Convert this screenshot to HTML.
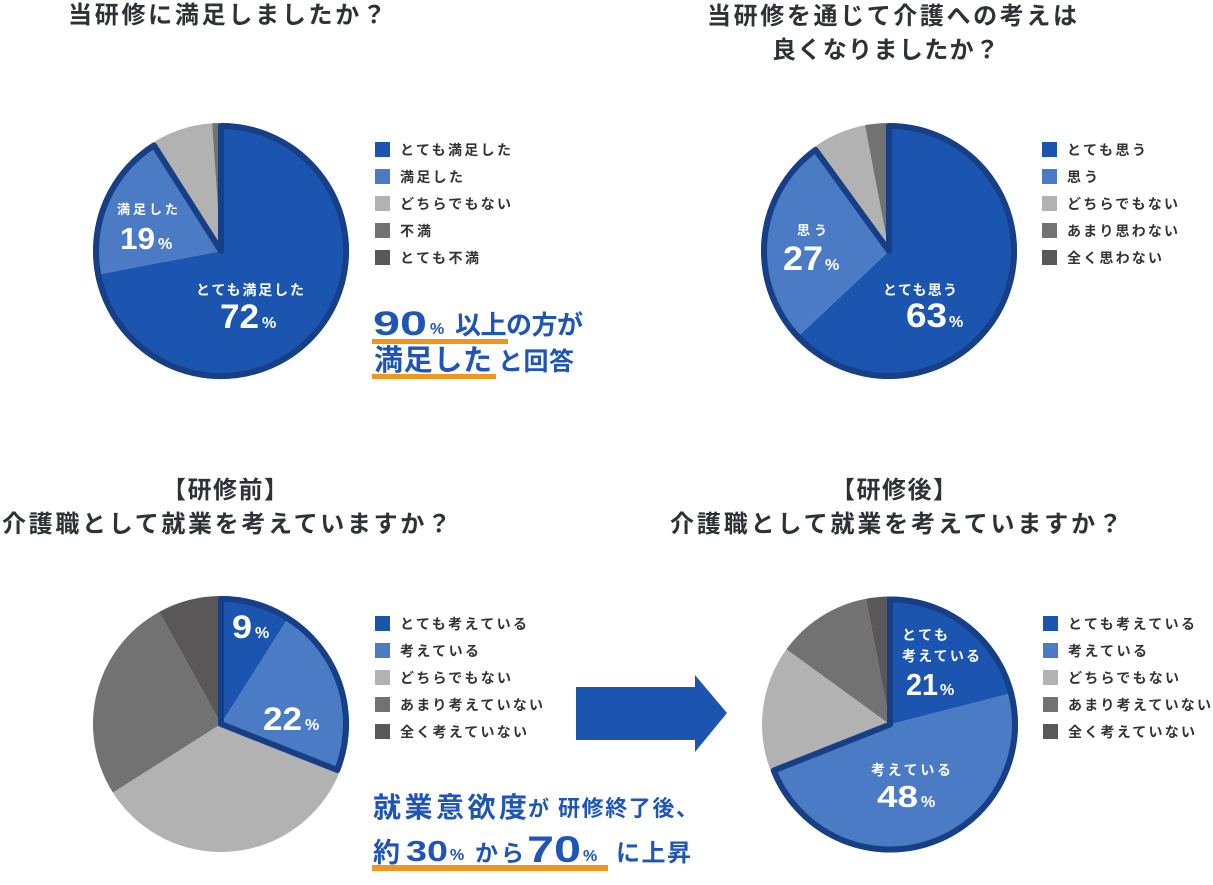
<!DOCTYPE html>
<html lang="ja">
<head>
<meta charset="utf-8">
<style>
  html,body{margin:0;padding:0;background:#fff;}
  svg{display:block;}
  text{font-family:"Liberation Sans","Noto Sans CJK JP",sans-serif;font-weight:bold;}
  .t{fill:#2e3135;font-size:24px;}
  .lg{fill:#333;font-size:14px;}
  .w{fill:#fff;}
  .b{fill:#1f56b5;}
</style>
</head>
<body>
<svg width="1213" height="885" viewBox="0 0 1213 885" xmlns="http://www.w3.org/2000/svg">
  <!-- Titles -->
  <text class="t" x="68" y="23" textLength="318" lengthAdjust="spacing">当研修に満足しましたか？</text>
  <text class="t" x="707" y="24" textLength="370" lengthAdjust="spacing">当研修を通じて介護への考えは</text>
  <text class="t" x="772" y="58" textLength="227" lengthAdjust="spacing">良くなりましたか？</text>
  <text class="t" x="162" y="498" textLength="126" lengthAdjust="spacing">【研修前】</text>
  <text class="t" x="2" y="532" textLength="449" lengthAdjust="spacing">介護職として就業を考えていますか？</text>
  <text class="t" x="831" y="498" textLength="126" lengthAdjust="spacing">【研修後】</text>
  <text class="t" x="670" y="532" textLength="452" lengthAdjust="spacing">介護職として就業を考えていますか？</text>

  <!-- Pie 1 -->
  <path d="M221,251 L221,123 A128,128 0 1 1 95.27,274.98 Z" fill="#1c55b0"/>
  <path d="M221,251 L95.27,274.98 A128,128 0 0 1 152.41,142.93 Z" fill="#4a7bc4"/>
  <path d="M221,251 L152.41,142.93 A128,128 0 0 1 212.07,123.31 Z" fill="#b2b2b2"/>
  <path d="M221,251 L212.07,123.31 A128,128 0 0 1 221,123 Z" fill="#727272"/>
  <path d="M221,251 L221,126 A125,125 0 1 1 154.02,145.46 Z" fill="none" stroke="#173f86" stroke-width="6" stroke-linejoin="round"/>
  <text class="w" x="117" y="214" font-size="13" textLength="61">満足した</text>
  <text class="w" x="120" y="249" font-size="31" textLength="35" lengthAdjust="spacingAndGlyphs">19</text>
  <text class="w" x="158" y="249" font-size="16">%</text>
  <text class="w" x="196" y="295" font-size="14" textLength="108">とても満足した</text>
  <text class="w" x="220" y="328" font-size="34" textLength="39" lengthAdjust="spacingAndGlyphs">72</text>
  <text class="w" x="262" y="328" font-size="16">%</text>

  <!-- Legend 1 -->
  <rect x="375" y="142" width="15" height="15" fill="#1c55b0"/>
  <rect x="375" y="169" width="15" height="15" fill="#4a7bc4"/>
  <rect x="375" y="196" width="15" height="15" fill="#b2b2b2"/>
  <rect x="375" y="223" width="15" height="15" fill="#727272"/>
  <rect x="375" y="250" width="15" height="15" fill="#595757"/>
  <text class="lg" x="400" y="155" textLength="111">とても満足した</text>
  <text class="lg" x="400" y="182" textLength="63">満足した</text>
  <text class="lg" x="400" y="209" textLength="111">どちらでもない</text>
  <text class="lg" x="400" y="236" textLength="31">不満</text>
  <text class="lg" x="400" y="263" textLength="79">とても不満</text>

  <!-- Annotation 1 -->
  <text class="b" x="373" y="335" font-size="34" textLength="54" lengthAdjust="spacingAndGlyphs">90</text>
  <text class="b" x="430" y="334" font-size="16">%</text>
  <text class="b" x="455" y="334" font-size="26" textLength="128">以上の方が</text>
  <rect x="372" y="339" width="136" height="5" fill="#f0961e"/>
  <text class="b" x="374" y="370" font-size="29" textLength="118">満足した</text>
  <text class="b" x="498" y="370" font-size="25" textLength="76">と回答</text>
  <rect x="372" y="374" width="124" height="5" fill="#f0961e"/>

  <!-- Pie 2 -->
  <path d="M889,251 L889,123 A128,128 0 1 1 795.69,338.62 Z" fill="#1c55b0"/>
  <path d="M889,251 L795.69,338.62 A128,128 0 0 1 813.76,147.45 Z" fill="#4a7bc4"/>
  <path d="M889,251 L813.76,147.45 A128,128 0 0 1 865.02,125.27 Z" fill="#b2b2b2"/>
  <path d="M889,251 L865.02,125.27 A128,128 0 0 1 889,123 Z" fill="#727272"/>
  <path d="M889,251 L889,126 A125,125 0 1 1 815.53,149.87 Z" fill="none" stroke="#173f86" stroke-width="6" stroke-linejoin="round"/>
  <text class="w" x="797" y="235" font-size="13" textLength="30">思う</text>
  <text class="w" x="783" y="270" font-size="34" textLength="40" lengthAdjust="spacingAndGlyphs">27</text>
  <text class="w" x="825" y="270" font-size="16">%</text>
  <text class="w" x="883" y="295" font-size="14" textLength="74">とても思う</text>
  <text class="w" x="906" y="327" font-size="34" textLength="41" lengthAdjust="spacingAndGlyphs">63</text>
  <text class="w" x="949" y="327" font-size="16">%</text>

  <!-- Legend 2 -->
  <rect x="1042" y="142" width="15" height="15" fill="#1c55b0"/>
  <rect x="1042" y="169" width="15" height="15" fill="#4a7bc4"/>
  <rect x="1042" y="196" width="15" height="15" fill="#b2b2b2"/>
  <rect x="1042" y="223" width="15" height="15" fill="#727272"/>
  <rect x="1042" y="250" width="15" height="15" fill="#595757"/>
  <text class="lg" x="1067" y="155" textLength="79">とても思う</text>
  <text class="lg" x="1067" y="182" textLength="31">思う</text>
  <text class="lg" x="1067" y="209" textLength="111">どちらでもない</text>
  <text class="lg" x="1067" y="236" textLength="111">あまり思わない</text>
  <text class="lg" x="1067" y="263" textLength="95">全く思わない</text>

  <!-- Pie 3 -->
  <path d="M221,724 L221,596 A128,128 0 0 1 289.59,615.93 Z" fill="#1c55b0"/>
  <path d="M221,724 L289.59,615.93 A128,128 0 0 1 340.01,771.12 Z" fill="#4a7bc4"/>
  <path d="M221,724 L340.01,771.12 A128,128 0 0 1 112.93,792.59 Z" fill="#b2b2b2"/>
  <path d="M221,724 L112.93,792.59 A128,128 0 0 1 159.34,611.83 Z" fill="#727272"/>
  <path d="M221,724 L159.34,611.83 A128,128 0 0 1 221,596 Z" fill="#595757"/>
  <path d="M221,724 L221,599 A125,125 0 0 1 337.22,770.02 Z" fill="none" stroke="#173f86" stroke-width="6" stroke-linejoin="round"/>
  <text class="w" x="232" y="638" font-size="32" textLength="20" lengthAdjust="spacingAndGlyphs">9</text>
  <text class="w" x="255" y="638" font-size="16">%</text>
  <text class="w" x="263" y="730" font-size="32" textLength="39" lengthAdjust="spacingAndGlyphs">22</text>
  <text class="w" x="305" y="730" font-size="16">%</text>

  <!-- Legend 3 -->
  <rect x="375" y="616" width="15" height="15" fill="#1c55b0"/>
  <rect x="375" y="643" width="15" height="15" fill="#4a7bc4"/>
  <rect x="375" y="670" width="15" height="15" fill="#b2b2b2"/>
  <rect x="375" y="697" width="15" height="15" fill="#727272"/>
  <rect x="375" y="724" width="15" height="15" fill="#595757"/>
  <text class="lg" x="400" y="629" textLength="127">とても考えている</text>
  <text class="lg" x="400" y="656" textLength="79">考えている</text>
  <text class="lg" x="400" y="683" textLength="111">どちらでもない</text>
  <text class="lg" x="400" y="710" textLength="143">あまり考えていない</text>
  <text class="lg" x="400" y="737" textLength="127">全く考えていない</text>

  <!-- Arrow -->
  <polygon points="576,687 695,687 695,675 727,713 695,752 695,740 576,740" fill="#1c55b0"/>

  <!-- Annotation 3 -->
  <text class="b" x="373" y="817" font-size="28" textLength="154">就業意欲度</text>
  <text class="b" x="528" y="816" font-size="21" textLength="20">が</text>
  <text class="b" x="558" y="816" font-size="22" textLength="140">研修終了後、</text>
  <text class="b" x="373" y="862" font-size="27" textLength="26">約</text>
  <text class="b" x="406" y="861" font-size="29" textLength="42" lengthAdjust="spacingAndGlyphs">30</text>
  <text class="b" x="450" y="860" font-size="16">%</text>
  <text class="b" x="475" y="861" font-size="23" textLength="49">から</text>
  <text class="b" x="527" y="862" font-size="37" textLength="54" lengthAdjust="spacingAndGlyphs">70</text>
  <text class="b" x="583" y="861" font-size="16">%</text>
  <text class="b" x="616" y="861" font-size="24" textLength="75">に上昇</text>
  <rect x="372" y="865" width="236" height="6" fill="#f0961e"/>

  <!-- Pie 4 -->
  <path d="M890,724.5 L890,596.5 A128,128 0 0 1 1013.98,692.67 Z" fill="#1c55b0"/>
  <path d="M890,724.5 L1013.98,692.67 A128,128 0 0 1 770.99,771.62 Z" fill="#4a7bc4"/>
  <path d="M890,724.5 L770.99,771.62 A128,128 0 0 1 786.45,649.26 Z" fill="#b2b2b2"/>
  <path d="M890,724.5 L786.45,649.26 A128,128 0 0 1 866.02,598.77 Z" fill="#727272"/>
  <path d="M890,724.5 L866.02,598.77 A128,128 0 0 1 890,596.5 Z" fill="#595757"/>
  <path d="M890,724.5 L890,599.5 A125,125 0 1 1 773.78,770.52 Z" fill="none" stroke="#173f86" stroke-width="6" stroke-linejoin="round"/>
  <text class="w" x="902" y="640" font-size="14" textLength="46">とても</text>
  <text class="w" x="902" y="661" font-size="14" textLength="78">考えている</text>
  <text class="w" x="906" y="695" font-size="31" textLength="32" lengthAdjust="spacingAndGlyphs">21</text>
  <text class="w" x="940" y="695" font-size="16">%</text>
  <text class="w" x="871" y="775" font-size="14" textLength="80">考えている</text>
  <text class="w" x="877" y="807" font-size="31" textLength="41" lengthAdjust="spacingAndGlyphs">48</text>
  <text class="w" x="921" y="807" font-size="16">%</text>

  <!-- Legend 4 -->
  <rect x="1043" y="616" width="15" height="15" fill="#1c55b0"/>
  <rect x="1043" y="643" width="15" height="15" fill="#4a7bc4"/>
  <rect x="1043" y="670" width="15" height="15" fill="#b2b2b2"/>
  <rect x="1043" y="697" width="15" height="15" fill="#727272"/>
  <rect x="1043" y="724" width="15" height="15" fill="#595757"/>
  <text class="lg" x="1068" y="629" textLength="127">とても考えている</text>
  <text class="lg" x="1068" y="656" textLength="79">考えている</text>
  <text class="lg" x="1068" y="683" textLength="111">どちらでもない</text>
  <text class="lg" x="1068" y="710" textLength="143">あまり考えていない</text>
  <text class="lg" x="1068" y="737" textLength="127">全く考えていない</text>
</svg>
</body>
</html>
